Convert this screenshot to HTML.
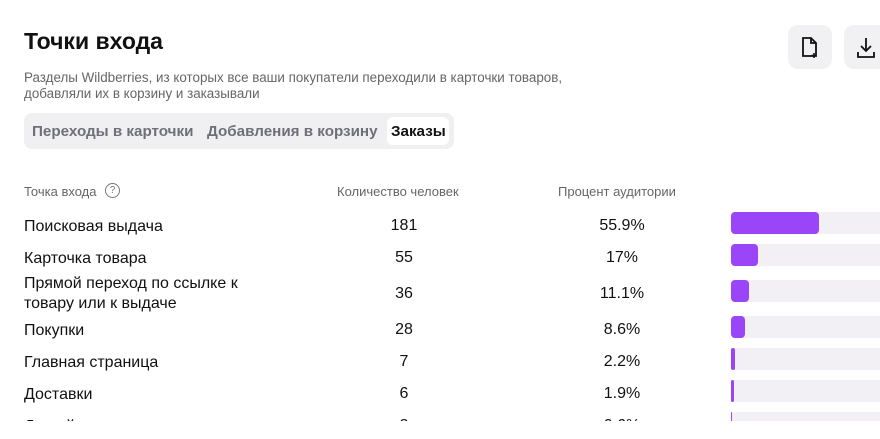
<!DOCTYPE html>
<html><head><meta charset="utf-8"><style>
body{margin:0;width:880px;height:439px;background:#fff;font-family:"Liberation Sans",sans-serif;position:relative;overflow:hidden;color:#111}
.a{position:absolute;white-space:nowrap}
.btn{position:absolute;top:25px;width:44px;height:44px;border-radius:10px;background:#f1f1f3}
.clip{position:absolute;left:0;top:0;width:880px;height:421px;overflow:hidden}
.row{position:absolute;left:0;width:880px;font-size:16px}
.bar{position:absolute;left:731px;width:160px;height:22px;background:#f2f0f4;border-radius:4px}
.fill{position:absolute;left:0;top:0;height:22px;background:#9b45f9;border-radius:4px}
.n{position:absolute;width:80px;text-align:center;left:364px}
.p{position:absolute;width:100px;text-align:center;left:572px}
</style></head><body>
<div class="a" style="left:24px;top:28px;font-size:23px;font-weight:bold;color:#111">Точки входа</div>
<div class="a" style="left:24px;top:70px;font-size:13.4px;color:#666;line-height:16px">Разделы Wildberries, из которых все ваши покупатели переходили в карточки товаров,<br>добавляли их в корзину и заказывали</div>
<div class="a" style="left:24px;top:113px;width:430px;height:36px;background:#f0f0f3;border-radius:8px"></div>
<div class="a" style="left:387px;top:117px;width:62px;height:28px;background:#fff;border-radius:6px"></div>
<div class="a" style="left:32px;top:123px;font-size:15.2px;font-weight:bold;color:#6f6f78">Переходы в карточки</div>
<div class="a" style="left:207px;top:123px;font-size:15.2px;font-weight:bold;color:#6f6f78">Добавления в корзину</div>
<div class="a" style="left:391px;top:123px;font-size:15.2px;font-weight:bold;color:#111">Заказы</div>
<div class="btn" style="left:788px"><svg width="44" height="44"><path d="M15 13h8l5 5v13h-13z M23 13v5h5" fill="none" stroke="#111" stroke-width="1.8"/><path d="M26 28v5M23.5 30.5h5" stroke="#111" stroke-width="1.6"/></svg></div>
<div class="btn" style="left:844px"><svg width="44" height="44"><path d="M22 13v13M17 21l5 5 5-5M14 27v5h16v-5" fill="none" stroke="#111" stroke-width="1.8"/></svg></div>
<div class="a" style="left:24px;top:184px;font-size:13px;color:#666">Точка входа</div>
<div class="a" style="left:105px;top:183px;width:13px;height:13px;border:1.3px solid #777;border-radius:50%;font-size:10px;color:#777;text-align:center;line-height:13px">?</div>
<div class="a" style="left:337px;top:184px;font-size:13px;color:#666">Количество человек</div>
<div class="a" style="left:558px;top:184px;font-size:13px;color:#666">Процент аудитории</div>
<div class="clip">
<div class="row" style="top:212px"><div class="a" style="left:24px;top:6px">Поисковая выдача</div><div class="n" style="top:5px">181</div><div class="p" style="top:5px">55.9%</div><div class="bar"><div class="fill" style="width:88px"></div></div></div>
<div class="row" style="top:244px"><div class="a" style="left:24px;top:6px">Карточка товара</div><div class="n" style="top:5px">55</div><div class="p" style="top:5px">17%</div><div class="bar"><div class="fill" style="width:27px"></div></div></div>
<div class="row" style="top:280px"><div class="a" style="left:24px;top:-6px;line-height:20px">Прямой переход по ссылке к<br>товару или к выдаче</div><div class="n" style="top:5px">36</div><div class="p" style="top:5px">11.1%</div><div class="bar"><div class="fill" style="width:18px"></div></div></div>
<div class="row" style="top:316px"><div class="a" style="left:24px;top:6px">Покупки</div><div class="n" style="top:5px">28</div><div class="p" style="top:5px">8.6%</div><div class="bar"><div class="fill" style="width:14px"></div></div></div>
<div class="row" style="top:348px"><div class="a" style="left:24px;top:6px">Главная страница</div><div class="n" style="top:5px">7</div><div class="p" style="top:5px">2.2%</div><div class="bar"><div class="fill" style="width:4px"></div></div></div>
<div class="row" style="top:380px"><div class="a" style="left:24px;top:6px">Доставки</div><div class="n" style="top:5px">6</div><div class="p" style="top:5px">1.9%</div><div class="bar"><div class="fill" style="width:3px"></div></div></div>
<div class="row" style="top:412px"><div class="a" style="left:24px;top:6px">Другой раздел</div><div class="n" style="top:5px">2</div><div class="p" style="top:5px">0.6%</div><div class="bar"><div class="fill" style="width:1px"></div></div></div>
</div>
</body></html>
